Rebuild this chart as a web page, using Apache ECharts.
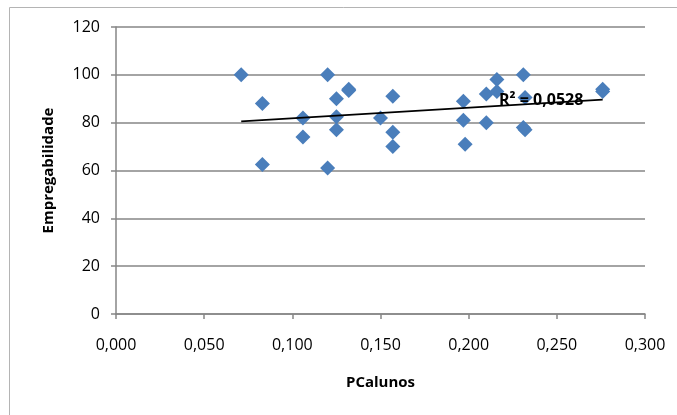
<!DOCTYPE html>
<html>
<head>
<meta charset="utf-8">
<script src="https://cdn.jsdelivr.net/npm/echarts@6/dist/echarts.min.js"></script>
<style>
  html, body { margin: 0; padding: 0; background: #fff; }
  #chart { width: 677px; height: 415px; }
</style>
</head>
<body>
<div id="chart"></div>
<script>
// PCalunos (x) against Empregabilidade (y)
const pcAlunos = [
  0.071, 0.083, 0.083, 0.106, 0.106, 0.120, 0.120, 0.125, 0.125, 0.125,
  0.132, 0.132, 0.150, 0.157, 0.157, 0.157, 0.197, 0.197, 0.198, 0.210,
  0.210, 0.216, 0.216, 0.231, 0.232, 0.231, 0.232, 0.276, 0.276
];
const empregabilidade = [
  100, 88, 62.5, 82, 74, 100, 61, 90, 82.5, 77,
  94, 93.5, 82, 91, 76, 70, 89, 81, 71, 92,
  80, 98, 93, 100, 90.5, 78, 77, 94, 93
];
const xTicks = { min: 0, max: 0.3, interval: 0.05 };
const yTicks = { min: 0, max: 120, interval: 20 };
const r2Label = 'R² = 0,0528';

// least-squares linear trend over the points
function linearFit(xs, ys) {
  const n = xs.length;
  let sx = 0, sy = 0, sxx = 0, sxy = 0;
  for (let i = 0; i < n; i++) {
    sx += xs[i]; sy += ys[i]; sxx += xs[i] * xs[i]; sxy += xs[i] * ys[i];
  }
  const slope = (n * sxy - sx * sy) / (n * sxx - sx * sx);
  const intercept = (sy - slope * sx) / n;
  return { slope, intercept };
}
const fit = linearFit(pcAlunos, empregabilidade);
const xMin = Math.min(...pcAlunos), xMax = Math.max(...pcAlunos);
const trend = [
  [xMin, fit.intercept + fit.slope * xMin],
  [xMax, fit.intercept + fit.slope * xMax]
];

const points = pcAlunos.map((x, i) => [x, empregabilidade[i]]);
const fmt = v => v.toFixed(3).replace('.', ',');
const font = '"Open Sans", "Noto Sans", sans-serif';

const chart = echarts.init(document.getElementById('chart'));
chart.setOption({
  animation: false,
  backgroundColor: '#ffffff',
  grid: { left: 116, right: 32, top: 27, bottom: 101 },
  xAxis: {
    type: 'value',
    min: xTicks.min, max: xTicks.max, interval: xTicks.interval,
    name: 'PCalunos',
    nameLocation: 'middle',
    nameGap: 61,
    nameTextStyle: { fontFamily: font, fontWeight: 'bold', fontSize: 15, color: '#000' },
    axisLine: { show: true, lineStyle: { color: '#868686', width: 1.5 } },
    axisTick: { show: true, inside: false, length: 5, lineStyle: { color: '#868686', width: 1.5 } },
    axisLabel: { formatter: fmt, margin: 23, fontFamily: font, fontSize: 16, color: '#000' },
    splitLine: { show: false }
  },
  yAxis: {
    type: 'value',
    min: yTicks.min, max: yTicks.max, interval: yTicks.interval,
    name: 'Empregabilidade',
    nameLocation: 'middle',
    nameGap: 60,
    nameTextStyle: { fontFamily: font, fontWeight: 'bold', fontSize: 15, color: '#000' },
    axisLine: { show: true, lineStyle: { color: '#868686', width: 1.5 } },
    axisTick: { show: true, inside: false, length: 5, lineStyle: { color: '#868686', width: 1.5 } },
    axisLabel: { margin: 16, fontFamily: font, fontSize: 16, color: '#000' },
    splitLine: { show: true, lineStyle: { color: '#868686', width: 1.6 } }
  },
  series: [
    {
      type: 'scatter',
      data: points,
      symbol: 'diamond',
      symbolSize: 15,
      itemStyle: { color: '#4a7ebb', opacity: 1 },
      z: 2
    },
    {
      type: 'line',
      data: trend,
      symbol: 'none',
      lineStyle: { color: '#000', width: 1.7 },
      z: 3
    }
  ],
  graphic: [
    {
      type: 'rect',
      shape: { x: 9.5, y: 7.5, width: 700, height: 450 },
      style: { fill: 'none', stroke: '#b4b4b4', lineWidth: 1 },
      silent: true,
      z: -1
    },
    {
      type: 'text',
      left: 499, top: 92,
      style: { text: r2Label, fontFamily: font, fontWeight: 'bold', fontSize: 16, fill: '#000' },
      z: 10
    }
  ]
});
</script>
</body>
</html>
